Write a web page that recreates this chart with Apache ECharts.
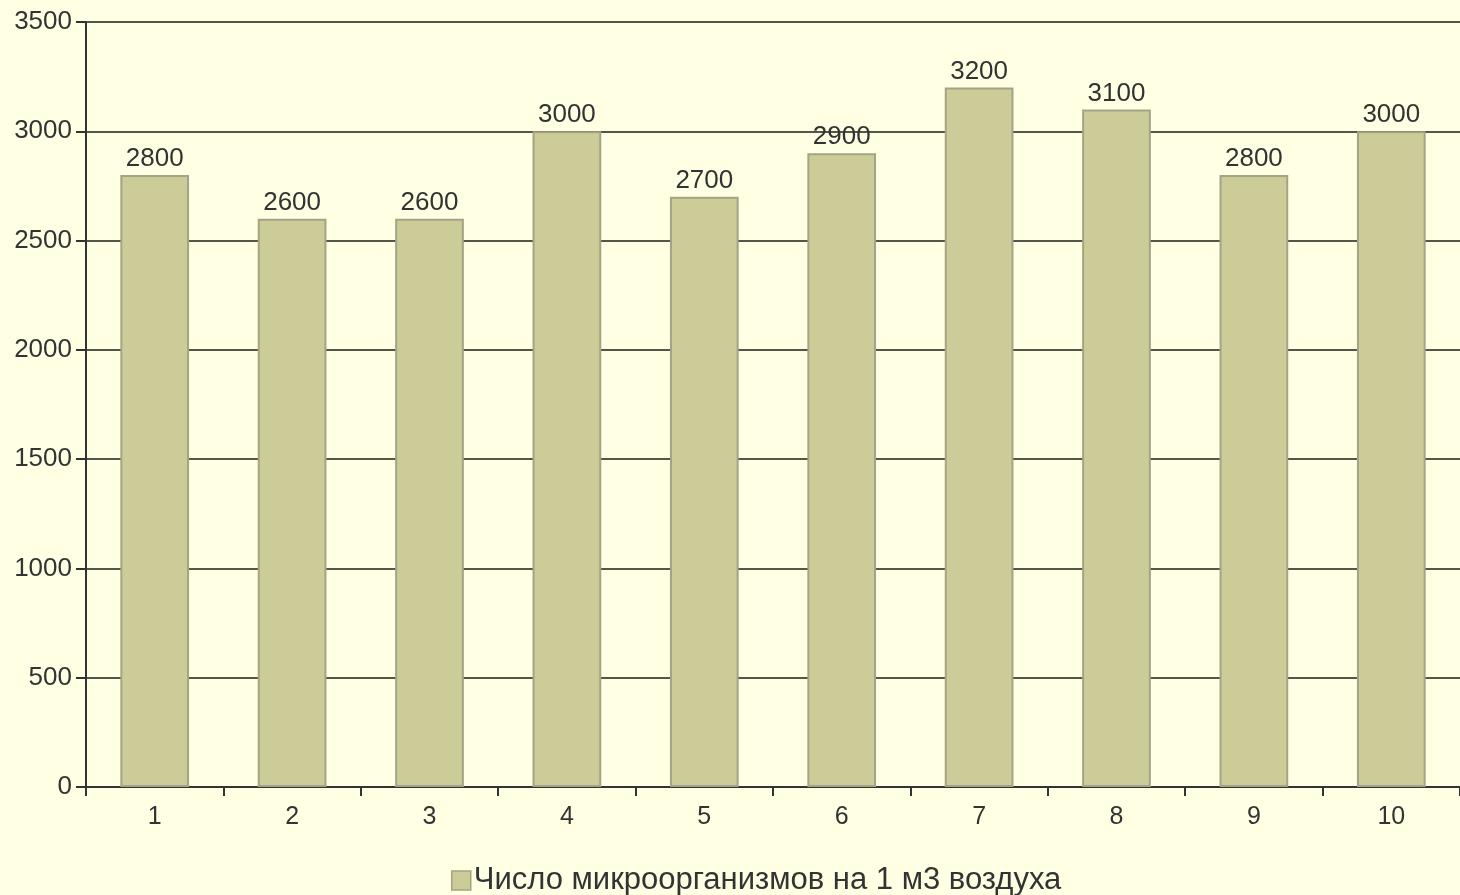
<!DOCTYPE html>
<html><head><meta charset="utf-8">
<script src="https://cdn.jsdelivr.net/npm/echarts@6/dist/echarts.min.js"></script>
<style>html,body{margin:0;padding:0;background:#FFFFE3;}#c{width:1460px;height:895px;}</style>
</head><body><div id="c"></div>
<script>
const categories = ['1','2','3','4','5','6','7','8','9','10'];
const values = [2800,2600,2600,3000,2700,2900,3200,3100,2800,3000];
const seriesName = 'Число микроорганизмов на 1 м3 воздуха';
const yTicks = {min:0,max:3500,interval:500};

const chart = echarts.init(document.getElementById('c'), null, {renderer:'canvas'});
const font = 'Liberation Sans, Arial, sans-serif';
chart.setOption({
  backgroundColor:'#FFFFE3',
  animation:false,
  grid:{left:86, top:22, width:1380, height:765, containLabel:false},
  legend:{
    data:[seriesName], top:860, left:446,
    itemWidth:19, itemHeight:19, itemGap:4,
    icon:'rect',
    itemStyle:{borderColor:'#A3A385', borderWidth:1.5},
    textStyle:{fontFamily:font, fontSize:31, color:'#333', padding:[0,0,0,-2]}
  },
  xAxis:{
    type:'category', data:categories,
    axisLine:{lineStyle:{color:'#333', width:2}},
    axisTick:{show:true, alignWithLabel:false, length:9, lineStyle:{color:'#333', width:2}},
    axisLabel:{fontFamily:font, fontSize:25, color:'#333', margin:18}
  },
  yAxis:{
    type:'value', min:yTicks.min, max:yTicks.max, interval:yTicks.interval,
    axisLine:{show:true, lineStyle:{color:'#333', width:2}},
    axisTick:{show:true, length:10, lineStyle:{color:'#333', width:2}},
    axisLabel:{fontFamily:font, fontSize:26, color:'#333', margin:14, formatter:function(v){return String(v);}},
    splitLine:{lineStyle:{color:'#55554a', width:2}}
  },
  series:[{
    name:seriesName, type:'bar', data:values,
    barWidth:'50%',
    itemStyle:{color:'#CCCC99', borderColor:'#A3A385', borderWidth:2},
    label:{show:true, position:'top', distance:3, fontFamily:font, fontSize:26, color:'#333'}
  }]
});
</script></body></html>
